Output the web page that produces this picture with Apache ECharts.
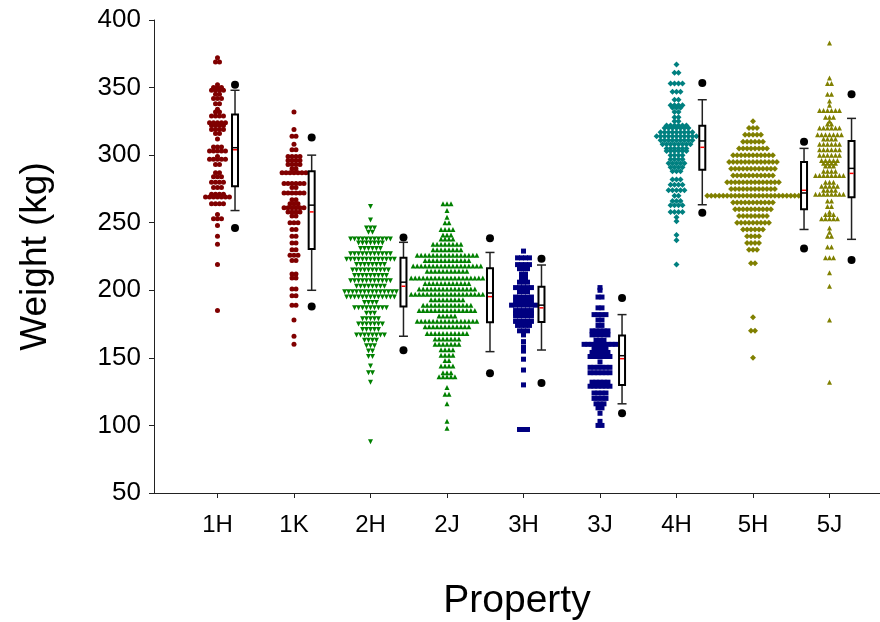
<!DOCTYPE html>
<html>
<head>
<meta charset="utf-8">
<script src="https://cdn.jsdelivr.net/npm/echarts@6/dist/echarts.min.js"></script>
<style>
  html, body { margin: 0; padding: 0; background: #fff; }
  #chart { width: 880px; height: 622px; }
</style>
</head>
<body>
<div id="chart"></div>
<script>
// categories on the x axis
var categories = ['1H', '1K', '2H', '2J', '3H', '3J', '4H', '5H', '5J'];

// dot density data: [weight, number of animals at that weight]
var swarm1H = [[372,1],[369,2],[352,1],[350,3],[348,4],[345,2],[342,3],[338,2],[334,1],[332,2],[329,4],[324,5],[322,4],[319,4],[316,2],[312,1],[306,3],[303,5],[299,1],[297,5],[293,2],[287,2],[284,3],[280,4],[276,3],[271,4],[269,7],[264,4],[256,1],[253,3],[248,1],[240,1],[234,1],[219,1],[185,1]];
var swarm1K = [[332,1],[319,1],[314,2],[308,1],[304,2],[299,4],[296,4],[293,4],[290,2],[287,7],[279,6],[276,2],[272,6],[267,2],[264,3],[261,6],[258,4],[255,2],[250,3],[245,2],[240,2],[235,2],[230,2],[226,3],[222,2],[212,2],[209,2],[201,2],[196,2],[189,2],[178,1],[166,1],[160,1]];
var swarm2H = [[262,1],[252,1],[246,3],[243,2],[238,11],[235,7],[231,6],[227,11],[223,13],[219,8],[215,10],[211,9],[207,11],[203,8],[199,14],[195,13],[191,4],[187,9],[183,3],[179,5],[175,7],[171,5],[167,8],[163,4],[159,3],[155,2],[151,2],[144,1],[139,2],[132,1],[88,1]];
var swarm2J = [[264,3],[259,1],[254,1],[250,2],[245,4],[241,3],[238,4],[234,8],[230,8],[226,16],[222,12],[218,18],[214,11],[209,19],[205,12],[201,15],[197,19],[193,9],[189,13],[185,15],[181,5],[177,16],[173,12],[168,11],[164,7],[160,7],[156,4],[152,4],[148,2],[144,4],[139,3],[136,5],[128,1],[123,2],[116,1],[103,1],[98,1]];
var swarm3H = [[229,1],[224,4],[219,4],[216,3],[212,2],[209,2],[206,3],[202,5],[199,3],[195,5],[192,5],[189,7],[185,5],[183,5],[181,5],[177,5],[174,4],[170,3],[167,1],[162,1],[158,1],[155,1],[149,1],[141,1],[130,1],[97,3]];
var swarm3J = [[202,1],[200,1],[195,2],[187,2],[182,4],[178,2],[174,2],[170,5],[167,5],[163,3],[160,9],[157,4],[154,5],[151,6],[147,1],[143,6],[139,6],[132,5],[129,6],[124,4],[120,4],[116,3],[113,2],[109,1],[103,1],[100,2]];
var swarm4H = [[367,1],[361,2],[353,4],[347,3],[341,2],[337,4],[335,3],[332,2],[328,2],[325,2],[322,6],[320,7],[317,9],[314,11],[311,9],[308,8],[305,6],[303,6],[300,4],[297,4],[294,5],[291,4],[288,3],[282,3],[278,4],[274,5],[270,2],[266,3],[263,4],[258,4],[254,1],[251,1],[241,1],[237,1],[219,1]];
var swarm5H = [[325,1],[320,3],[315,5],[310,6],[305,8],[300,11],[295,13],[290,12],[285,11],[280,14],[275,12],[270,24],[265,11],[260,10],[255,8],[250,9],[245,6],[240,4],[235,4],[230,3],[220,2],[180,1],[170,2],[150,1]];
var swarm5J = [[383,1],[357,1],[353,2],[345,2],[340,1],[337,1],[333,6],[328,3],[325,1],[323,2],[320,6],[315,7],[312,4],[308,6],[304,6],[300,6],[296,5],[294,4],[292,3],[288,4],[285,8],[280,3],[277,5],[274,4],[271,8],[266,2],[262,2],[258,1],[256,3],[253,5],[246,1],[243,1],[240,2],[232,2],[224,3],[213,1],[203,1],[178,1],[132,1]];

// box plot stats: [5th, 10th, 25th, median, 75th, 90th, 95th percentile]
var boxStats = [
  [246, 259, 277, 305.5, 330, 348, 352],
  [188, 200, 230.5, 263, 288, 300, 313],
  [155.6, 166, 188, 206, 224, 235.5, 239],
  [138.6, 154.6, 176.3, 198, 216.3, 228, 238.5],
  [131.4, 155.8, 176.5, 189, 202.7, 218.7, 223.4],
  [109, 116, 130, 151.6, 166.6, 182, 194.3],
  [257.4, 263.3, 289.2, 310.5, 321.8, 341, 353.4],
  [231, 245, 260, 272, 295, 305, 310],
  [222.4, 237.7, 268.8, 290.2, 310.5, 327.2, 345]
];
var means = [304, 258, 203, 195.3, 187, 149.4, 305.8, 274, 286.5];

var swarms = [swarm1H, swarm1K, swarm2H, swarm2J, swarm3H, swarm3J, swarm4H, swarm5H, swarm5J];
var colors = ['#800000', '#800000', '#008000', '#008000', '#000080', '#000080', '#008080', '#808000', '#808000'];
var symbols = ['circle', 'circle', 'triangle', 'triangle', 'rect', 'rect', 'diamond', 'diamond', 'triangle'];
var rotates = [0, 0, 180, 0, 0, 0, 0, 0, 0];
var boxShift = [0.229, 0.231, 0.431, 0.562, 0.235, 0.288, 0.337, 0.667, 0.288];
var PITCH = 0.052;

function spread(rows, center) {
  var out = [];
  rows.forEach(function (r) {
    var n = r[1];
    for (var i = 0; i < n; i++) {
      out.push([center + (i - (n - 1) / 2) * PITCH, r[0]]);
    }
  });
  return out;
}

var series = [];
swarms.forEach(function (rows, k) {
  series.push({
    type: 'scatter',
    name: categories[k],
    data: spread(rows, k + 1),
    symbol: symbols[k],
    symbolRotate: rotates[k],
    symbolSize: symbols[k] == 'diamond' ? 6 : 5,
    itemStyle: { color: colors[k], opacity: 1 },
    silent: true
  });
});

// boxes: whiskers, caps, box, median and mean lines
series.push({
  type: 'custom',
  data: boxStats.map(function (b, i) {
    return [i + 1 + boxShift[i], b[1], b[2], b[3], b[4], b[5], means[i]];
  }),
  encode: { x: 0, y: [1, 2, 3, 4, 5] },
  renderItem: function (params, api) {
    var x = api.value(0);
    var px = api.coord([x, 100])[0];
    var y = function (v) { return api.coord([x, api.value(v)])[1]; };
    var lo = y(1), q1 = y(2), med = y(3), q3 = y(4), hi = y(5), mn = y(6);
    var hw = 3, cap = 4.5;
    var line = { stroke: '#222', lineWidth: 1.5 };
    return {
      type: 'group',
      children: [
        { type: 'line', shape: { x1: px, y1: hi, x2: px, y2: q3 }, style: line },
        { type: 'line', shape: { x1: px, y1: q1, x2: px, y2: lo }, style: line },
        { type: 'line', shape: { x1: px - cap, y1: hi, x2: px + cap, y2: hi }, style: line },
        { type: 'line', shape: { x1: px - cap, y1: lo, x2: px + cap, y2: lo }, style: line },
        { type: 'rect', shape: { x: px - hw, y: q3, width: hw * 2, height: q1 - q3 },
          style: { fill: '#fff', stroke: '#000', lineWidth: 2 } },
        { type: 'line', shape: { x1: px - hw, y1: med, x2: px + hw, y2: med }, style: { stroke: '#000', lineWidth: 1.5 } },
        { type: 'line', shape: { x1: px - hw + 1, y1: mn, x2: px + hw - 1, y2: mn }, style: { stroke: '#ff0000', lineWidth: 1.5 } }
      ]
    };
  },
  silent: true,
  z: 5
});

// 5th / 95th percentile points
var extremes = [];
boxStats.forEach(function (b, i) {
  extremes.push([i + 1 + boxShift[i], b[0]]);
  extremes.push([i + 1 + boxShift[i], b[6]]);
});
series.push({
  type: 'scatter',
  data: extremes,
  symbol: 'circle',
  symbolSize: 8,
  itemStyle: { color: '#000', opacity: 1 },
  silent: true,
  z: 6
});

var myChart = echarts.init(document.getElementById('chart'));
myChart.setOption({
  animation: false,
  backgroundColor: '#fff',
  textStyle: { fontFamily: 'Liberation Sans' },
  grid: { left: 154, right: 0, top: 20, bottom: 129, outerBoundsMode: 'none' },
  xAxis: {
    type: 'value',
    min: 0.17,
    max: 9.66,
    name: 'Property',
    nameLocation: 'middle',
    nameGap: 89,
    nameTextStyle: { fontSize: 39, color: '#000', fontFamily: 'Liberation Sans' },
    axisLine: { show: true, lineStyle: { color: '#222', width: 1 } },
    axisTick: { show: true, length: 5, customValues: [1, 2, 3, 4, 5, 6, 7, 8, 9], lineStyle: { color: '#222' } },
    axisLabel: {
      customValues: [1, 2, 3, 4, 5, 6, 7, 8, 9],
      formatter: function (v) { return categories[Math.round(v) - 1]; },
      fontSize: 24,
      color: '#000',
      margin: 20
    },
    splitLine: { show: false }
  },
  yAxis: {
    type: 'value',
    min: 50,
    max: 400,
    interval: 50,
    name: 'Weight (kg)',
    nameLocation: 'middle',
    nameGap: 100,
    nameTextStyle: { fontSize: 37, color: '#000', fontFamily: 'Liberation Sans' },
    axisLine: { show: true, lineStyle: { color: '#222', width: 1 } },
    axisTick: { show: true, length: 5, lineStyle: { color: '#222' } },
    axisLabel: { fontSize: 26, color: '#000', margin: 13 },
    splitLine: { show: false }
  },
  series: series
});
</script>
</body>
</html>
